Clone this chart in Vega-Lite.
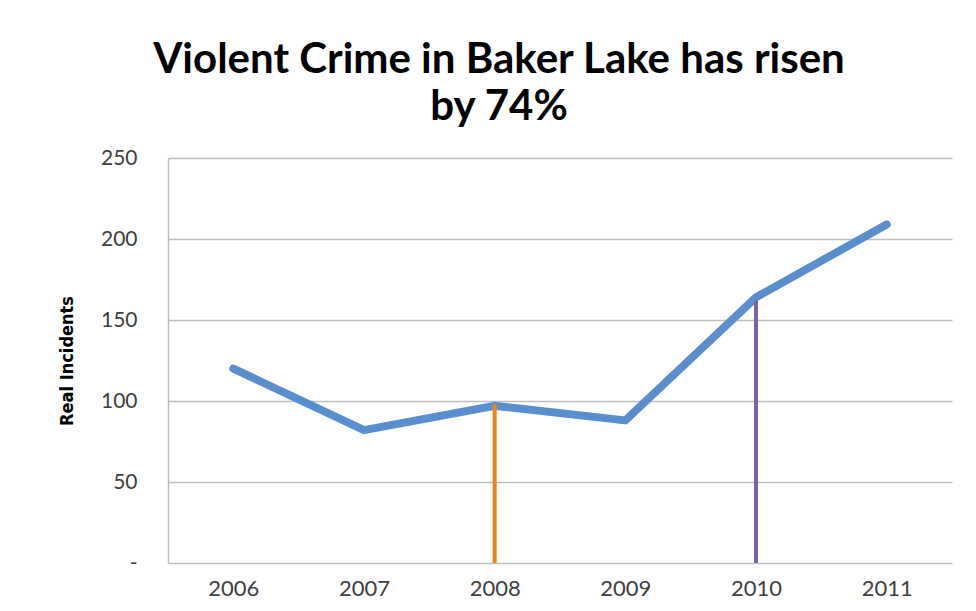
{
  "$schema": "https://vega.github.io/schema/vega-lite/v6.json",
  "autosize": "none",
  "width": 784,
  "height": 405,
  "padding": {"left": 168, "top": 158, "right": 24, "bottom": 48},
  "background": "white",
  "title": {
    "text": ["Violent Crime in Baker Lake has risen", "by 74%"],
    "font": "Lato",
    "fontSize": 42,
    "fontWeight": "bold",
    "color": "black",
    "anchor": "middle",
    "dx": -61,
    "lineHeight": 47,
    "offset": 18
  },
  "datasets": {
    "crime": [
      {"year": "2006", "incidents": 120},
      {"year": "2007", "incidents": 82},
      {"year": "2008", "incidents": 97},
      {"year": "2009", "incidents": 88},
      {"year": "2010", "incidents": 164},
      {"year": "2011", "incidents": 209}
    ],
    "marks": [
      {"year": "2008", "top": 98, "kind": "a"},
      {"year": "2010", "top": 162, "kind": "b"}
    ]
  },
  "layer": [
    {
      "data": {"name": "crime"},
      "mark": {"type": "line", "color": "#5A8FCF", "strokeWidth": 8, "strokeCap": "round", "strokeJoin": "miter"},
      "encoding": {
        "x": {
          "field": "year", "type": "ordinal",
          "scale": {"type": "point", "padding": 0.5},
          "axis": {"title": null, "labelAngle": 0, "domain": false, "ticks": false, "grid": false,
                   "labelFont": "Lato", "labelFontSize": 22, "labelColor": "#404040", "labelPadding": 15}
        },
        "y": {
          "field": "incidents", "type": "quantitative",
          "scale": {"domain": [0, 250], "nice": false},
          "axis": {
            "title": "Real Incidents",
            "titleFont": "DejaVu Sans Condensed",
            "titleFontSize": 18,
            "titleFontWeight": "bold",
            "titleColor": "#000000",
            "titlePadding": 24,
            "values": [0, 50, 100, 150, 200, 250],
            "labelExpr": "datum.value == 0 ? '-' : datum.label",
            "labelFont": "Lato", "labelFontSize": 21, "labelColor": "#404040", "labelPadding": 31,
            "ticks": false,
            "domain": true, "domainColor": "#BFBFBF", "domainWidth": 1.5,
            "grid": true, "gridColor": "#BFBFBF", "gridWidth": 1.5
          }
        }
      }
    },
    {
      "data": {"name": "marks"},
      "mark": {"type": "rule", "strokeWidth": 4},
      "encoding": {
        "x": {"field": "year", "type": "ordinal"},
        "y": {"field": "top", "type": "quantitative"},
        "y2": {"datum": 0},
        "color": {"field": "kind", "type": "nominal", "scale": {"domain": ["a", "b"], "range": ["#EF8511", "#7E62A0"]}, "legend": null}
      }
    }
  ],
  "config": {"view": {"stroke": null}}
}
